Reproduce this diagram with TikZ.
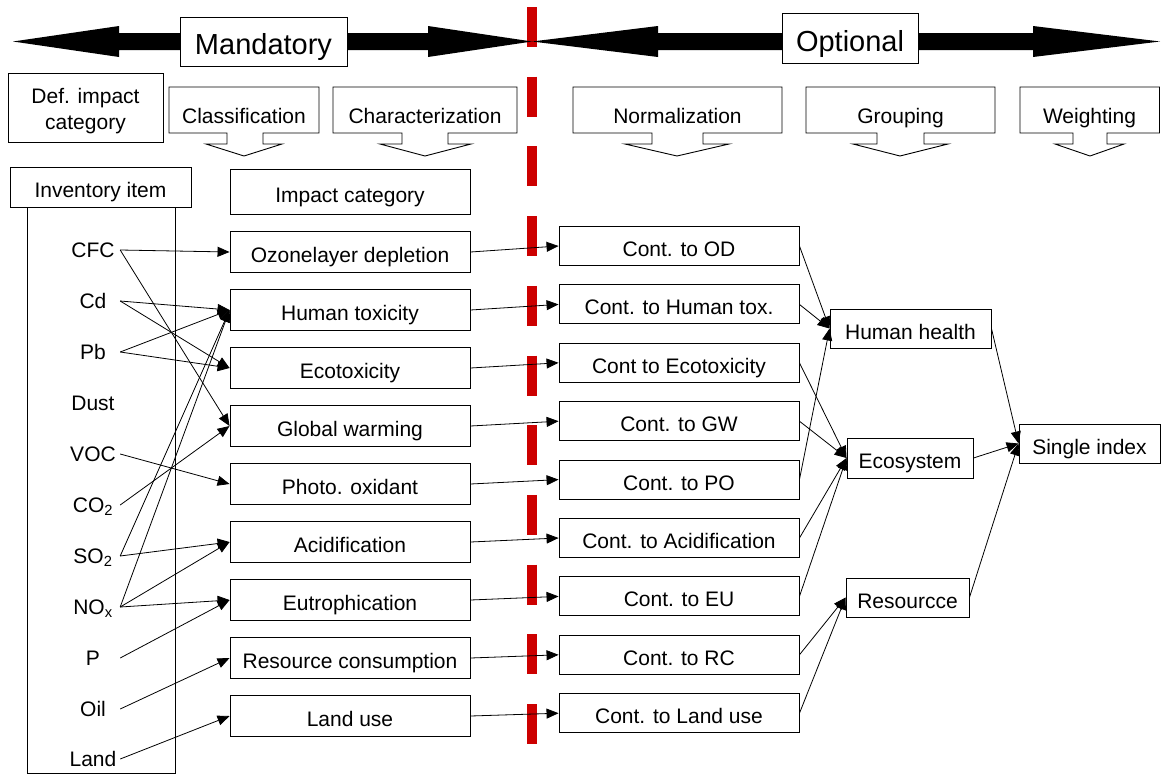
\documentclass[tikz,border=0pt]{standalone}
\usepackage{fontspec}
\setmainfont{Liberation Sans}
\usepackage{xcolor}
\usepackage{tikz}
\usetikzlibrary{arrows.meta, positioning}
\definecolor{phasered}{RGB}{204,0,0}
\newcommand{\lcafont}{\fontsize{21}{26}\selectfont}
\newcommand{\phasefont}{\fontsize{29}{34}\selectfont}

\begin{document}
\begin{tikzpicture}[x=1pt, y=-1pt,
  box/.style={draw, fill=white, line width=0.9pt, inner sep=0pt, font=\lcafont, text height=21pt, text depth=0pt},
  impact/.style={box, minimum width=240pt, minimum height=41pt},
  contrib/.style={box, minimum width=240pt, minimum height=39pt},
  group/.style={box, minimum height=39pt},
  phase/.style={box, font=\phasefont, text height=26pt},
  steplabel/.style={font=\lcafont, inner sep=0pt, text height=21pt, text depth=0pt},
  item/.style={font=\lcafont, inner sep=0pt, minimum width=54pt, text height=15pt, text depth=0pt},
  link/.style={line width=0.8pt, -{Triangle[length=12pt, width=10pt]}},
  callout/.style={draw, line width=0.9pt}]
\useasboundingbox (0,0) rectangle (1161,774);

% border between mandatory and optional
\draw[phasered, line width=10pt, dash pattern=on 40pt off 29.7pt] (532,7) -- (532,747);

% phase arrows
\fill (13,41.5) -- (119,26) -- (119,33) -- (428,33) -- (428,26) -- (532,41.5) -- (428,57) -- (428,50) -- (119,50) -- (119,57) -- cycle;
\fill (532,41.5) -- (658,26) -- (658,33) -- (1033,33) -- (1033,26) -- (1160,41.5) -- (1033,57) -- (1033,50) -- (658,50) -- (658,57) -- cycle;
\node[phase, minimum width=167pt, minimum height=49pt] (mand) at (263.5,41.5) {Mandatory};
\node[phase, minimum width=136pt, minimum height=50pt] (opt) at (850,38) {Optional};

% steps
\node[box, minimum width=155pt, minimum height=69pt] (def) at (85.5,107.5) {};
\node[align=center, font=\lcafont, inner sep=0pt, yshift=-4pt] (deftext) at (def) {Def. impact\\category};
\draw[callout] (169,87) -- (319,87) -- (319,133) -- (263,133) -- (263,144) -- (282,144) -- (244,156) -- (206,144) -- (227,144) -- (227,133) -- (169,133) -- cycle;
\node[steplabel] (classif) at (244,112.5) {Classification};
\draw[callout] (333,87) -- (517,87) -- (517,133) -- (448,133) -- (448,144) -- (471,144) -- (425,156) -- (380,144) -- (402,144) -- (402,133) -- (333,133) -- cycle;
\node[steplabel] (charact) at (425,112.5) {Characterization};
\draw[callout] (573,87) -- (782,87) -- (782,133) -- (703,133) -- (703,144) -- (729,144) -- (677,156) -- (625,144) -- (652,144) -- (652,133) -- (573,133) -- cycle;
\node[steplabel] (normal) at (677.5,112.5) {Normalization};
\draw[callout] (806,87) -- (995,87) -- (995,133) -- (924,133) -- (924,144) -- (948,144) -- (900,156) -- (853,144) -- (877,144) -- (877,133) -- (806,133) -- cycle;
\node[steplabel] (grouping) at (900.5,112.5) {Grouping};
\draw[callout] (1020,87) -- (1159.5,87) -- (1159.5,133) -- (1107,133) -- (1107,144) -- (1124,144) -- (1090,156) -- (1055,144) -- (1073,144) -- (1073,133) -- (1020,133) -- cycle;
\node[steplabel] (weighting) at (1089.5,112.5) {Weighting};

% inventory
\node[box, minimum width=181pt, minimum height=40pt] (invhead) at (100.5,187) {Inventory item};
\draw[line width=0.9pt] (27,207) -- (27,773) -- (175,773) -- (175,207);
\node[item] (cfc) at (93,250) {CFC};
\node[item] (cd) at (93,301) {Cd};
\node[item] (pb) at (93,352) {Pb};
\node[item] (dust) at (93,403) {Dust};
\node[item] (voc) at (93,454) {VOC};
\node[item] (co2) at (93,505) {CO\textsubscript{2}};
\node[item] (so2) at (93,556) {SO\textsubscript{2}};
\node[item] (nox) at (93,607) {NO\textsubscript{x}};
\node[item] (p) at (93,658) {P};
\node[item] (oil) at (93,709) {Oil};
\node[item] (land) at (93,759) {Land};

% impact categories
\node[box, minimum width=240pt, minimum height=45pt] (imphead) at (350,191.5) {Impact category};
\node[impact] (ozone) at (350,252) {Ozonelayer depletion};
\node[impact] (humtox) at (350,310) {Human toxicity};
\node[impact] (ecotox) at (350,368) {Ecotoxicity};
\node[impact] (gw) at (350,426) {Global warming};
\node[impact] (photo) at (350,484) {Photo. oxidant};
\node[impact] (acid) at (350,542) {Acidification};
\node[impact] (eutro) at (350,600) {Eutrophication};
\node[impact] (resc) at (350,658) {Resource consumption};
\node[impact] (landuse) at (350,716) {Land use};

% contributions
\node[contrib] (cod) at (679,246) {Cont. to OD};
\node[contrib] (chum) at (679,304.4) {Cont. to Human tox.};
\node[contrib] (ceco) at (679,362.8) {Cont to Ecotoxicity};
\node[contrib] (cgw) at (679,421.2) {Cont. to GW};
\node[contrib] (cpo) at (679,479.6) {Cont. to PO};
\node[contrib] (cacid) at (679,538) {Cont. to Acidification};
\node[contrib] (ceu) at (679,596.4) {Cont. to EU};
\node[contrib] (crc) at (679,654.8) {Cont. to RC};
\node[contrib] (cland) at (679,713.2) {Cont. to Land use};

% groups
\node[group, minimum width=161pt] (hh) at (910.5,328.5) {Human health};
\node[group, minimum width=126pt, minimum height=40pt] (eco) at (910,458) {Ecosystem};
\node[group, minimum width=123pt] (res) at (907.5,597.5) {Resourcce};
\node[group, minimum width=141pt] (single) at (1089.5,443.5) {Single index};

% classification
\draw[link] (cfc.east) -- (ozone.west);
\draw[link] (cfc.east) -- (gw.west);
\draw[link] (cd.east) -- (humtox.west);
\draw[link] (cd.east) -- (ecotox.west);
\draw[link] (pb.east) -- (humtox.west);
\draw[link] (pb.east) -- (ecotox.west);
\draw[link] (voc.east) -- (photo.west);
\draw[link] (co2.east) -- (gw.west);
\draw[link] (so2.east) -- (humtox.west);
\draw[link] (so2.east) -- (acid.west);
\draw[link] (nox.east) -- (humtox.west);
\draw[link] (nox.east) -- (acid.west);
\draw[link] (nox.east) -- (eutro.west);
\draw[link] (p.east) -- (eutro.west);
\draw[link] (oil.east) -- (resc.west);
\draw[link] (land.east) -- (landuse.west);

% normalization
\draw[link] (ozone.east) -- (cod.west);
\draw[link] (humtox.east) -- (chum.west);
\draw[link] (ecotox.east) -- (ceco.west);
\draw[link] (gw.east) -- (cgw.west);
\draw[link] (photo.east) -- (cpo.west);
\draw[link] (acid.east) -- (cacid.west);
\draw[link] (eutro.east) -- (ceu.west);
\draw[link] (resc.east) -- (crc.west);
\draw[link] (landuse.east) -- (cland.west);

% grouping and weighting
\draw[link] (cod.east) -- (hh.west);
\draw[link] (chum.east) -- (hh.west);
\draw[link] (cpo.east) -- (hh.west);
\draw[link] (ceco.east) -- (eco.west);
\draw[link] (cgw.east) -- (eco.west);
\draw[link] (cacid.east) -- (eco.west);
\draw[link] (ceu.east) -- (eco.west);
\draw[link] (crc.east) -- (res.west);
\draw[link] (cland.east) -- (res.west);
\draw[link] (hh.east) -- (single.west);
\draw[link] (eco.east) -- (single.west);
\draw[link] (res.east) -- (single.west);
\end{tikzpicture}
\end{document}
